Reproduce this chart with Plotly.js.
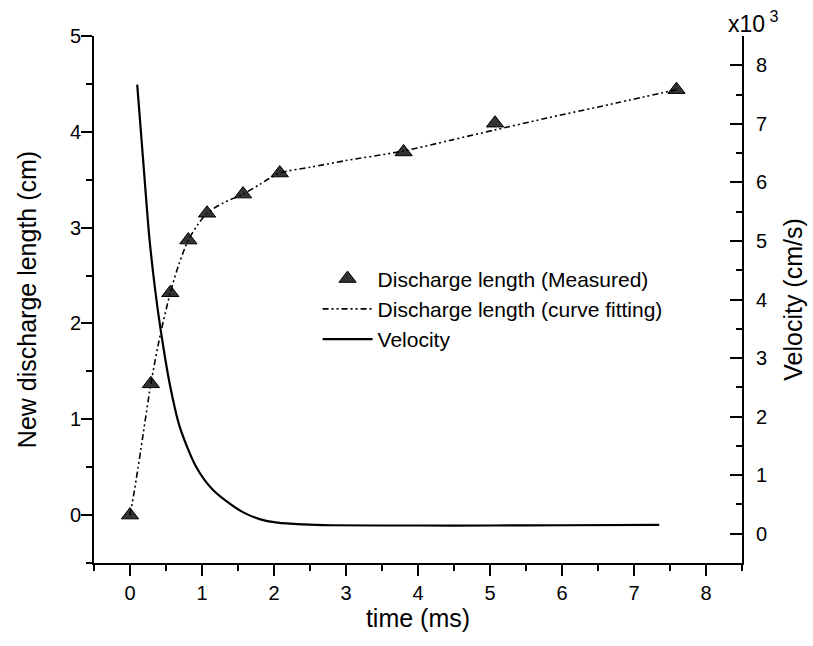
<!DOCTYPE html>
<html><head><meta charset="utf-8">
<script src="https://cdn.plot.ly/plotly-3.0.1.min.js"></script>
<style>body{margin:0;background:#fff}</style>
</head><body><div id="chart" style="width:813px;height:646px"></div>
<script>
// Measured discharge length (cm) vs time (ms)
const measuredTime   = [0, 0.29, 0.56, 0.81, 1.07, 1.57, 2.08, 3.80, 5.07, 7.59];
const measuredLength = [0, 1.37, 2.32, 2.87, 3.15, 3.35, 3.57, 3.79, 4.09, 4.44];
// Curve fitting of discharge length
const fitTime   = [0, 0.06, 0.15, 0.29, 0.42, 0.56, 0.68, 0.81, 0.94, 1.07, 1.30, 1.57, 1.80, 2.08, 2.50, 3.00, 3.80, 4.44, 5.07, 5.83, 6.75, 7.59];
const fitLength = [0, 0.25, 0.68, 1.37, 1.88, 2.32, 2.62, 2.87, 3.03, 3.15, 3.26, 3.35, 3.45, 3.57, 3.63, 3.70, 3.80, 3.91, 4.02, 4.15, 4.30, 4.44];
// Velocity (cm/s) vs time (ms)
const velocityTime = [0.10, 0.18, 0.27, 0.35, 0.42, 0.55, 0.69, 0.92, 1.15, 1.40, 1.58, 1.80, 2.05, 2.40, 2.80, 4.00, 5.00, 6.00, 7.35];
const velocity     = [7670, 6420, 5040, 4160, 3530, 2570, 1830, 1140, 750, 500, 360, 250, 190, 160, 145, 140, 140, 145, 150];
// Tick labels
const xTickVals = [0, 1, 2, 3, 4, 5, 6, 7, 8];
const leftTickVals = [0, 1, 2, 3, 4, 5];
const rightTickVals = [0, 1000, 2000, 3000, 4000, 5000, 6000, 7000, 8000];
const rightTickText = ['0', '1', '2', '3', '4', '5', '6', '7', '8'];

const FONT = 'Liberation Sans, Arial, sans-serif';

const traces = [
  {
    x: measuredTime, y: measuredLength, type: 'scatter', mode: 'markers',
    name: 'Discharge length (Measured)',
    marker: {symbol: 'triangle-up', size: 15, color: '#333333', line: {color: '#000', width: 1}},
    yaxis: 'y'
  },
  {
    x: fitTime, y: fitLength, type: 'scatter', mode: 'lines',
    name: 'Discharge length (curve fitting)',
    line: {color: '#000', width: 1.6, dash: '6px,3px,2px,3px,2px,3px', shape: 'spline', smoothing: 0.8},
    yaxis: 'y'
  },
  {
    x: velocityTime, y: velocity, type: 'scatter', mode: 'lines',
    name: 'Velocity',
    line: {color: '#000', width: 2.2, shape: 'spline', smoothing: 0.8},
    yaxis: 'y2'
  }
];

const axisCommon = {
  showline: true, linewidth: 2, linecolor: '#000', showgrid: false, zeroline: false,
  tickwidth: 2, tickcolor: '#000', tickfont: {size: 20, color: '#000', family: FONT}
};

const layout = {
  width: 813, height: 646,
  margin: {l: 94, r: 71, t: 36, b: 83},
  paper_bgcolor: '#fff', plot_bgcolor: '#fff',
  font: {family: FONT, color: '#000'},
  showlegend: true,
  legend: {x: 0.345, y: 0.578, xanchor: 'left', yanchor: 'top', bgcolor: 'rgba(0,0,0,0)',
           font: {size: 21, family: FONT, color: '#000'}, itemwidth: 50, tracegroupgap: 0},
  xaxis: Object.assign({}, axisCommon, {
    range: [-0.5, 8.5], tickmode: 'array', tickvals: xTickVals,
    ticks: 'outside', ticklen: 11,
    minor: {ticks: 'outside', ticklen: 6, tickwidth: 2, tickcolor: '#000', tickmode: 'linear', tick0: 0.5, dtick: 1, showgrid: false},
    title: {text: 'time (ms)', font: {size: 25, family: FONT, color: '#000'}, standoff: 5}
  }),
  yaxis: Object.assign({}, axisCommon, {
    range: [-0.5, 5], tickmode: 'array', tickvals: leftTickVals,
    ticks: 'outside', ticklen: 11, ticklabelstandoff: -4,
    minor: {ticks: 'outside', ticklen: 6, tickwidth: 2, tickcolor: '#000', tickmode: 'linear', tick0: 0.5, dtick: 1, showgrid: false},
    title: {text: 'New discharge length (cm)', font: {size: 25, family: FONT, color: '#000'}, standoff: 26}
  }),
  yaxis2: Object.assign({}, axisCommon, {
    overlaying: 'y', side: 'right', anchor: 'x',
    range: [-500, 8500], tickmode: 'array', tickvals: rightTickVals, ticktext: rightTickText,
    ticks: 'inside', ticklen: 12, ticklabelstandoff: 8,
    minor: {ticks: 'inside', ticklen: 6, tickwidth: 2, tickcolor: '#000', tickmode: 'linear', tick0: 500, dtick: 1000, showgrid: false},
    title: {text: 'Velocity (cm/s)', font: {size: 25, family: FONT, color: '#000'}, standoff: 18}
  }),
  annotations: [{
    xref: 'paper', yref: 'paper', x: 1, y: 1, xanchor: 'left', yanchor: 'bottom',
    xshift: -16, yshift: -3,
    text: 'x10<sup> 3</sup>', showarrow: false,
    font: {size: 23, family: FONT, color: '#000'}
  }]
};

Plotly.newPlot('chart', traces, layout, {displayModeBar: false, staticPlot: true});
</script>
</body></html>
